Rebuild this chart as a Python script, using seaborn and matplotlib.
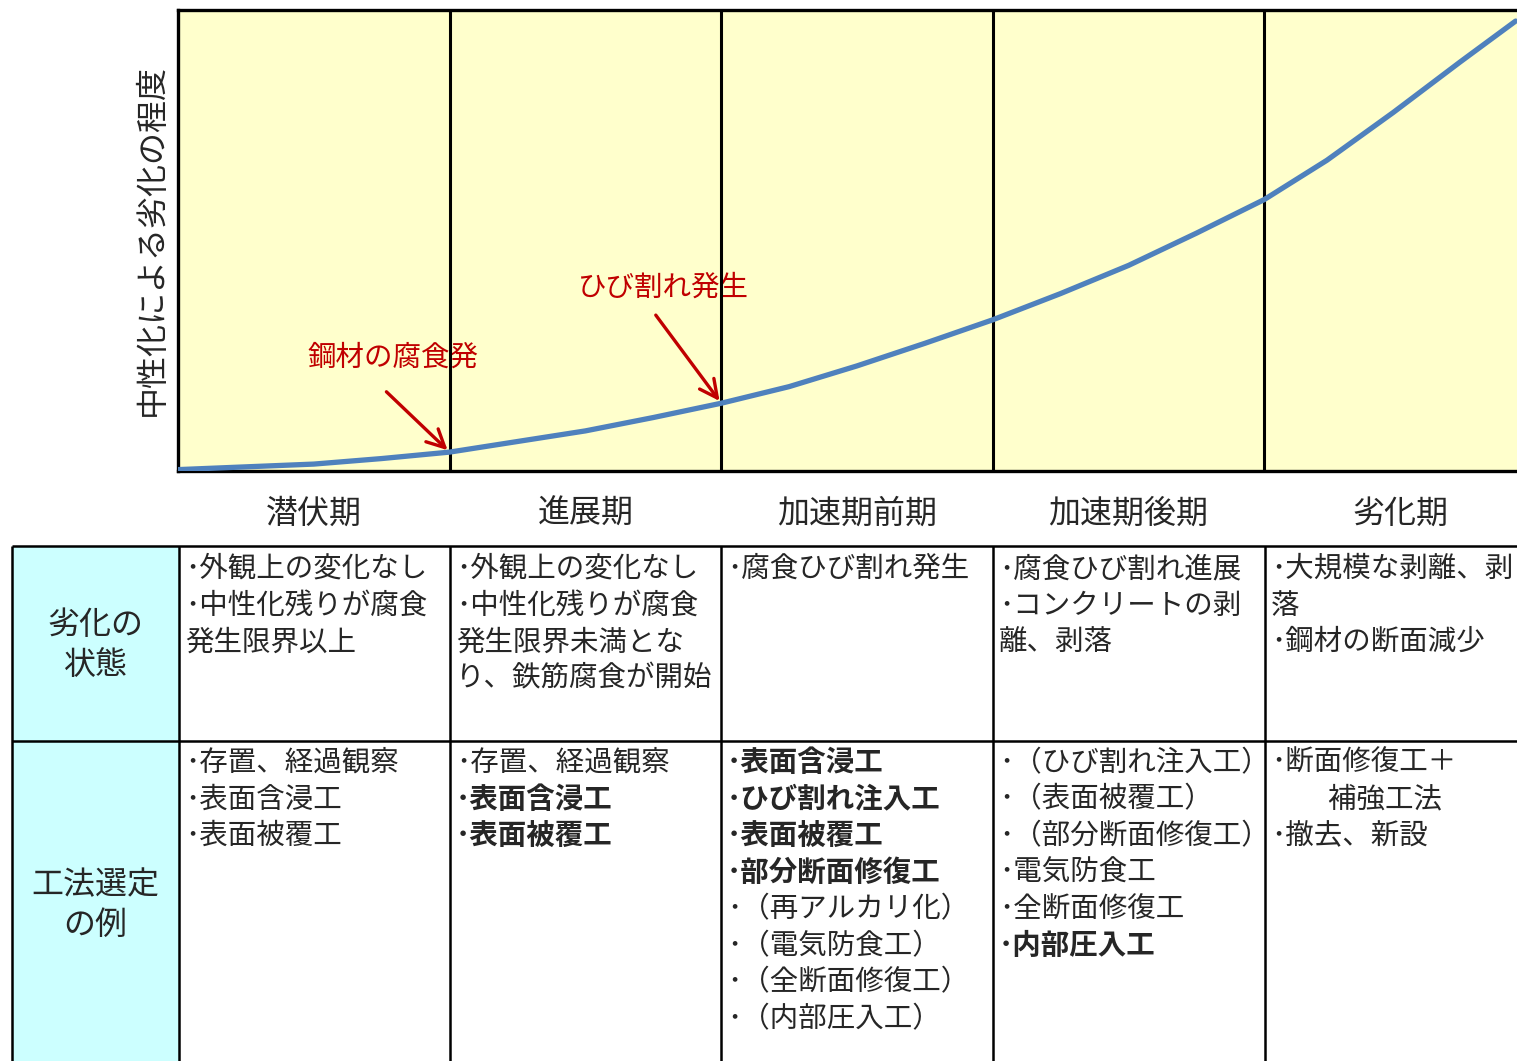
import matplotlib.pyplot as plt
import numpy as np
import pandas as pd
import seaborn as sns
from matplotlib.patches import Rectangle

# stages along the x axis
stages = ["潜伏期", "進展期", "加速期前期", "加速期後期", "劣化期"]

# deterioration curve (x in stage widths, y in % of axis height)
curve_x = [0.0, 0.25, 0.5, 0.75, 1.0, 1.25, 1.5, 1.75, 2.0, 2.25, 2.5, 2.75, 3.0,
           3.25, 3.5, 3.75, 4.0, 4.23, 4.475, 4.72, 4.925]
curve_y = [0.3, 0.9, 1.5, 2.7, 4.1, 6.4, 8.7, 11.6, 14.7, 18.3, 22.8, 27.7, 32.8,
           38.5, 44.6, 51.6, 58.9, 67.4, 77.8, 88.7, 97.6]

ylabel = "中性化による劣化の程度"
notes = ["鋼材の腐食発", "ひび割れ発生"]
note_idx = [4, 8]          # curve point each arrow points to

row_heads = ["劣化の\n状態", "工法選定\nの例"]

state_text = [
    ["･外観上の変化なし", "･中性化残りが腐食", "発生限界以上"],
    ["･外観上の変化なし", "･中性化残りが腐食", "発生限界未満とな", "り、鉄筋腐食が開始"],
    ["･腐食ひび割れ発生"],
    ["･腐食ひび割れ進展", "･コンクリートの剥", "離、剥落"],
    ["･大規模な剥離、剥", "落", "･鋼材の断面減少"],
]

method_text = [
    ["･存置、経過観察", "･表面含浸工", "･表面被覆工"],
    ["･存置、経過観察", "･表面含浸工", "･表面被覆工"],
    ["･表面含浸工", "･ひび割れ注入工", "･表面被覆工", "･部分断面修復工",
     "･（再アルカリ化）", "･（電気防食工）", "･（全断面修復工）", "･（内部圧入工）"],
    ["･（ひび割れ注入工）", "･（表面被覆工）", "･（部分断面修復工）",
     "･電気防食工", "･全断面修復工", "･内部圧入工"],
    ["･断面修復工＋", "　　補強工法", "･撤去、新設"],
]
method_bold = [
    [False, False, False],
    [False, True, True],
    [True, True, True, True, False, False, False, False],
    [False, False, False, False, False, True],
    [False, False, False],
]

sns.set_style("white")
plt.rcParams["font.family"] = ["Noto Sans CJK JP", "DejaVu Sans"]

W, H = 1517, 1061
fig = plt.figure(figsize=(W / 100, H / 100), dpi=100)

# ---- chart ----
ax = fig.add_axes([178 / W, 1 - 471 / H, (W - 178) / W, 461 / H])
ax.set_facecolor("#FFFFCC")
df = pd.DataFrame({"x": curve_x, "y": curve_y})
sns.lineplot(data=df, x="x", y="y", ax=ax, color="#4F81BD", lw=3.8, zorder=4)
ax.set_xlim(0, 4.93)
ax.set_ylim(0, 100)
for i in range(1, 5):
    ax.axvline(i, color="black", lw=2.2, zorder=3)
for s in ["left", "top", "bottom"]:
    ax.spines[s].set_color("black")
    ax.spines[s].set_linewidth(2.4)
ax.spines["right"].set_visible(False)
ax.set_yticks([])
ax.set_xticks(np.arange(5) + 0.5, stages)
ax.tick_params(axis="x", length=0, pad=19, labelsize=23)
ax.set_xlabel("")
ax.set_ylabel(ylabel, fontsize=23, labelpad=7)

red = "#C00000"
text_pos = [(0.79, 24.5), (1.786, 39.7)]
arrow_from = [(0.76, 17.6), (1.753, 34.3)]
for n, i, tp, af in zip(notes, note_idx, text_pos, arrow_from):
    ax.text(tp[0], tp[1], n, color=red, fontsize=20.5, ha="center", va="center", zorder=2)
    ax.annotate("", xy=(curve_x[i], curve_y[i]), xytext=af,
                arrowprops=dict(arrowstyle="->", color=red, lw=2.4, mutation_scale=32),
                zorder=5)

# ---- table ----
tab = fig.add_axes([0, 0, 1, 1])
tab.set_xlim(0, W)
tab.set_ylim(H, 0)
tab.axis("off")
col_x = [12, 179, 450, 721, 993, 1265, W]
row_y = [546, 741, H]
tab.add_patch(Rectangle((col_x[0], row_y[0]), col_x[1] - col_x[0], H - row_y[0],
                        facecolor="#CCFFFF", edgecolor="none"))
tab.hlines(row_y[:2], col_x[0], W, color="black", lw=1.8)
tab.vlines(col_x[:-1], row_y[0], H, color="black", lw=1.8)

head_y = [645, 905]
for r, t in enumerate(row_heads):
    tab.text((col_x[0] + col_x[1]) / 2, head_y[r], t, fontsize=23, ha="center",
             va="center", linespacing=1.3)

step = 36.6
for c in range(5):
    x0 = col_x[c + 1] + 6
    for k, t in enumerate(state_text[c]):
        tab.text(x0, row_y[0] + 23 + k * step, t, fontsize=20.5, ha="left", va="center")
    for k, t in enumerate(method_text[c]):
        tab.text(x0, row_y[1] + 22 + k * step, t, fontsize=20.5, ha="left", va="center",
                 fontweight="bold" if method_bold[c][k] else "normal")

fig.savefig("out.png", dpi=100)
